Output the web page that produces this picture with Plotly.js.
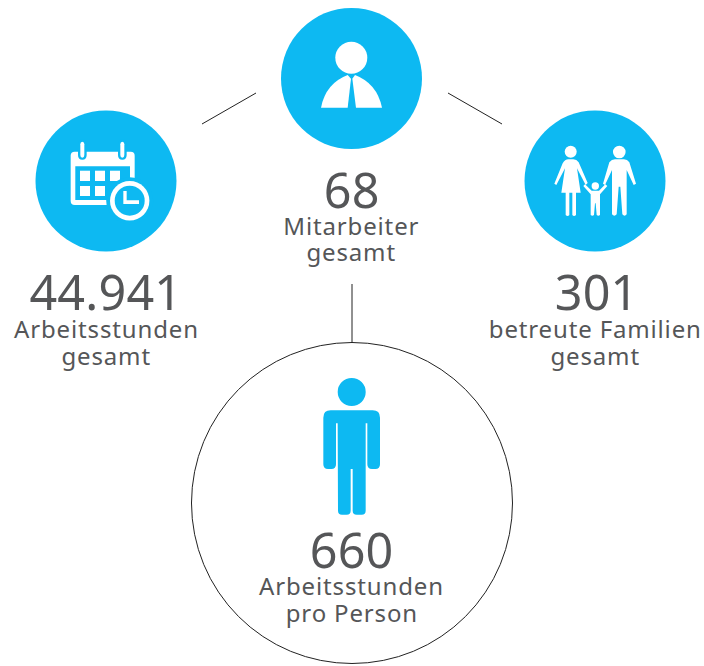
<!DOCTYPE html>
<html><head><meta charset="utf-8">
<script src="https://cdn.plot.ly/plotly-3.0.1.min.js"></script>
<style>
html,body{margin:0;padding:0;background:#fff}
#c{width:704px;height:666px}
</style></head><body><div id="c"></div>
<script>
const values = ['44.941', '68', '301', '660'];
const labelFirst = ['Arbeitsstunden', 'Mitarbeiter', 'betreute Familien', 'Arbeitsstunden'];
const labelSecond = ['gesamt', 'gesamt', 'gesamt', 'pro Person'];

const BLUE = '#0db9f2', INK = '#555658';
const textX = [106, 351.5, 595.5, 351.5];
const valueX = [106, 351.5, 596, 351.5];
const valueY = [290.5, 188.5, 290.5, 548.5];
const firstY = [328, 225, 328, 585];
const secondY = [355, 251, 355, 612];

function path(ox, oy, d) {
  let i = 0;
  return d.replace(/-?\d+(\.\d+)?/g, n => {
    const v = (i++ % 2 === 0) ? ox + n / 3 : oy + n / 3;
    return v.toFixed(2);
  });
}
const fill = (d, c) => ({type:'path', xref:'x', yref:'y', path:d, fillcolor:c, line:{width:0}, layer:'above'});
const disc = (cx, cy, r, c) => ({type:'circle', xref:'x', yref:'y', x0:cx-r, x1:cx+r, y0:cy-r, y1:cy+r, fillcolor:c, line:{width:0}, layer:'above'});
const rect = (a, b, c, d, col) => ({type:'rect', xref:'x', yref:'y', x0:a, x1:c, y0:b, y1:d, fillcolor:col, line:{width:0}, layer:'above'});
const seg = (a, b, c, d) => ({type:'line', xref:'x', yref:'y', x0:a, y0:b, x1:c, y1:d, line:{color:'#222', width:1}, layer:'above'});

const shapes = [
  seg(202, 124, 256, 93), seg(448, 93, 502, 124), seg(352, 284, 352, 343),
  {type:'circle', xref:'x', yref:'y', x0:191.5, x1:512.5, y0:342.5, y1:663.5, fillcolor:'rgba(0,0,0,0)', line:{color:'#222', width:1}, layer:'above'},
  disc(106, 181, 70.5, BLUE), disc(351.5, 78.5, 70.5, BLUE), disc(595, 181, 70.5, BLUE),
  // calendar
  fill(path(30,105,'M 134 140 L 302 140 Q 314 140 314 152 L 314 288 Q 314 300 302 300 L 134 300 Q 122 300 122 288 L 122 152 Q 122 140 134 140 Z'), '#fff'),
  rect(75.3, 166.3, 130, 200, BLUE),
  rect(80,170.7,90,181,'#fff'), rect(95,170.7,105,181,'#fff'), rect(110,170.7,120,181,'#fff'),
  rect(80,186,90,196,'#fff'), rect(95,186,105,196,'#fff'),
  fill(path(30,105,'M 144 118 Q 144 104 157 104 Q 170 104 170 118 L 170 150 Q 170 164 157 164 Q 144 164 144 150 Z'), BLUE),
  fill(path(30,105,'M 264 118 Q 264 104 277 104 Q 290 104 290 118 L 290 150 Q 290 164 277 164 Q 264 164 264 150 Z'), BLUE),
  fill(path(30,105,'M 151 118 Q 151 110 157 110 Q 163 110 163 118 L 163 150 Q 163 158 157 158 Q 151 158 151 150 Z'), '#fff'),
  fill(path(30,105,'M 271 118 Q 271 110 277 110 Q 283 110 283 118 L 283 150 Q 283 158 277 158 Q 271 158 271 150 Z'), '#fff'),
  disc(129.7, 200.7, 23.5, BLUE), disc(129.7, 200.7, 19.7, '#fff'), disc(129.7, 200.7, 15, BLUE),
  fill(path(30,105,'M 280 258 L 290 258 L 290 286 L 327 286 L 327 297 L 280 297 Z'), '#fff'),
  // staff person
  disc(351.3, 57.7, 16, '#fff'),
  fill(path(275,0,'M 218 225 Q 152 250 138 323 L 218 323 L 228 236 Z'), '#fff'),
  fill(path(275,0,'M 240 225 Q 306 250 321 323 L 243 323 L 232 236 Z'), '#fff'),
  // family
  disc(570.7, 151.7, 6, '#fff'), disc(619.3, 152, 6.3, '#fff'), disc(595.3, 186, 3.7, '#fff'),
  fill(path(520,105,'M 145 163 L 160 163 Q 170 163 176 172 L 203 234 L 197 240 L 171 190 L 182 263 L 168 263 L 168 330 Q 162 336 157 330 L 157 263 L 148 263 L 148 330 Q 143 336 137 330 L 137 263 L 124 263 L 135 190 L 109 240 L 103 236 L 128 175 Q 135 163 145 163 Z'), '#fff'),
  fill(path(520,105,'M 285 163 L 312 163 Q 322 163 328 172 L 348 236 L 341 240 L 320 195 L 320 328 Q 314 336 307 328 L 301 245 L 296 245 L 290 328 Q 283 336 276 328 L 276 195 L 255 240 L 249 236 L 268 172 Q 275 163 285 163 Z'), '#fff'),
  fill(path(520,105,'M 190 243 L 195 238 L 215 257 L 237 257 L 256 238 L 262 243 L 240 268 L 240 330 Q 235 335 230 330 L 227 295 L 225 295 L 222 330 Q 217 335 212 330 L 212 268 Z'), '#fff'),
  // big person
  disc(351.7, 392, 14, BLUE),
  fill(path(300,370,'M 92 121 L 218 121 Q 240 121 240 143 L 240 283 Q 240 297 226 297 L 216 297 Q 202 297 202 283 L 202 160 L 197 160 L 197 422 Q 197 434 185 434 L 170 434 Q 158 434 158 422 L 158 297 L 152 297 L 152 422 Q 152 434 140 434 L 126 434 Q 114 434 114 422 L 113 160 L 108 160 L 108 283 Q 108 297 94 297 L 84 297 Q 70 297 70 283 L 70 143 Q 70 121 92 121 Z'), BLUE)
];

const ann = (x, y, text, size) => ({x, y, xref:'x', yref:'y', text, showarrow:false, xanchor:'center', yanchor:'middle',
  font:{family:'"Noto Sans", "Open Sans", sans-serif', size, color:INK}});
const annotations = [];
values.forEach((v, i) => {
  annotations.push(ann(valueX[i], valueY[i], v, 48.5));
  annotations.push(ann(textX[i], firstY[i], labelFirst[i], 24));
  annotations.push(ann(textX[i], secondY[i], labelSecond[i], 24));
});

const axis = r => ({range:r, visible:false, fixedrange:true, showgrid:false, zeroline:false});
Plotly.newPlot('c', [{x:[], y:[], type:'scatter', mode:'markers', showlegend:false, hoverinfo:'skip'}], {
  width:704, height:666, margin:{l:0,r:0,t:0,b:0}, paper_bgcolor:'#fff', plot_bgcolor:'#fff',
  xaxis:axis([0,704]), yaxis:axis([666,0]), showlegend:false, shapes, annotations
}, {displayModeBar:false, staticPlot:true}).then(() => {
  document.querySelectorAll('.annotation-text').forEach(t => {
    const fs = parseFloat(t.style.fontSize);
    t.style.letterSpacing = fs > 30 ? '0.2px' : '0.85px';
  });
});
</script></body></html>
